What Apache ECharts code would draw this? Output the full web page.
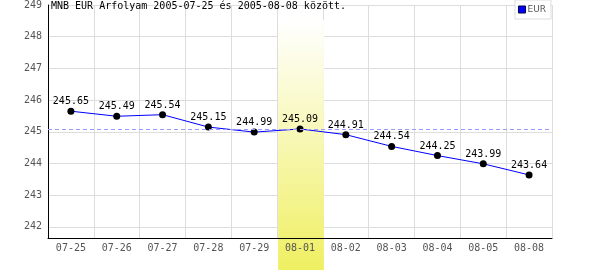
<!DOCTYPE html>
<html>
<head>
<meta charset="utf-8">
<script src="https://cdn.jsdelivr.net/npm/echarts@6/dist/echarts.min.js"></script>
<style>html,body{margin:0;padding:0;background:#fff}#c{width:600px;height:270px}</style>
</head>
<body>
<div id="c"></div>
<script>
const titleText = 'MNB EUR Arfolyam 2005-07-25 és 2005-08-08 között.';
const seriesName = 'EUR';
const categories = ['07-25','07-26','07-27','07-28','07-29','08-01','08-02','08-03','08-04','08-05','08-08'];
const eurValues = [245.65,245.49,245.54,245.15,244.99,245.09,244.91,244.54,244.25,243.99,243.64];
const yTicks = [242,243,244,245,246,247,248,249];
const yMin = 241.65;
const yMax = 249;
const highlightCategory = '08-01';
const referenceValue = 245.09;

const chart = echarts.init(document.getElementById('c'), null, {renderer: 'canvas'});
const mono = 'DejaVu Sans Mono';
const bandTop = 20;

chart.setOption({
  animation: false,
  backgroundColor: '#ffffff',
  title: {
    text: titleText,
    left: 51, top: 1, padding: 0,
    textStyle: {fontFamily: mono, fontSize: 10, fontWeight: 'normal', color: '#000'}
  },
  legend: {
    right: 49, top: 0,
    padding: [5, 5, 5, 3],
    backgroundColor: '#fff',
    borderColor: '#dddddd', borderWidth: 1, borderRadius: 0,
    itemWidth: 7, itemHeight: 7, itemGap: 0,
    textStyle: {fontFamily: 'DejaVu Sans', fontSize: 9, color: '#555', padding: [0, 0, 0, -3]},
    data: [{name: seriesName, icon: 'rect', itemStyle: {color: '#0000ff', borderColor: '#000044', borderWidth: 1}}]
  },
  grid: {left: 48, right: 48, top: 1, bottom: 32, containLabel: false},
  xAxis: [
    {
      type: 'category', data: categories, boundaryGap: true, position: 'bottom', z: 0,
      axisLine: {show: false}, axisTick: {show: false}, axisLabel: {show: false},
      splitLine: {show: true, interval: 0, lineStyle: {color: '#dddddd', width: 1}}
    },
    {
      type: 'category', data: categories, boundaryGap: true, position: 'bottom', z: 5,
      axisLine: {show: true, lineStyle: {color: '#000', width: 1}},
      axisTick: {show: false},
      axisLabel: {show: true, interval: 0, margin: 5, fontFamily: mono, fontSize: 10, color: '#555'},
      splitLine: {show: false}
    }
  ],
  yAxis: {
    type: 'value', min: yMin, max: yMax, z: 0,
    axisLine: {show: true, lineStyle: {color: '#000', width: 1}},
    axisTick: {show: false, customValues: yTicks},
    axisLabel: {customValues: yTicks, margin: 6, fontFamily: mono, fontSize: 10, color: '#555',
      verticalAlign: 'middle', verticalAlignMaxLabel: 'middle', verticalAlignMinLabel: 'middle'},
    splitLine: {show: true, lineStyle: {color: '#dddddd', width: 1}}
  },
  series: [
    {
      type: 'custom', name: 'band', z: 1, clip: false, silent: true,
      xAxisIndex: 0,
      data: [[highlightCategory, referenceValue]],
      encode: {x: 0, y: 1},
      renderItem: function (params, api) {
        const c = api.coord([api.value(0), api.value(1)]);
        const w = api.size([1, 0])[0];
        const h = api.getHeight();
        return {
          type: 'rect',
          shape: {x: c[0] - w / 2 + 1, y: bandTop, width: w, height: h - bandTop},
          style: {
            fill: new echarts.graphic.LinearGradient(0, 0, 0, 1, [
              {offset: 0, color: '#ffffff'},
              {offset: 1, color: '#efef62'}
            ])
          }
        };
      }
    },
    {
      type: 'line', name: seriesName, z: 3,
      xAxisIndex: 0,
      data: eurValues,
      symbol: 'circle', symbolSize: 7,
      itemStyle: {color: '#000'},
      lineStyle: {color: '#0000ff', width: 1},
      label: {show: true, position: 'top', distance: 1, fontFamily: mono, fontSize: 10, color: '#000'},
      markLine: {
        silent: true, symbol: 'none',
        label: {show: false},
        lineStyle: {color: '#9999ff', type: [4, 3], width: 1},
        data: [{yAxis: referenceValue}]
      }
    }
  ]
});
</script>
</body>
</html>
